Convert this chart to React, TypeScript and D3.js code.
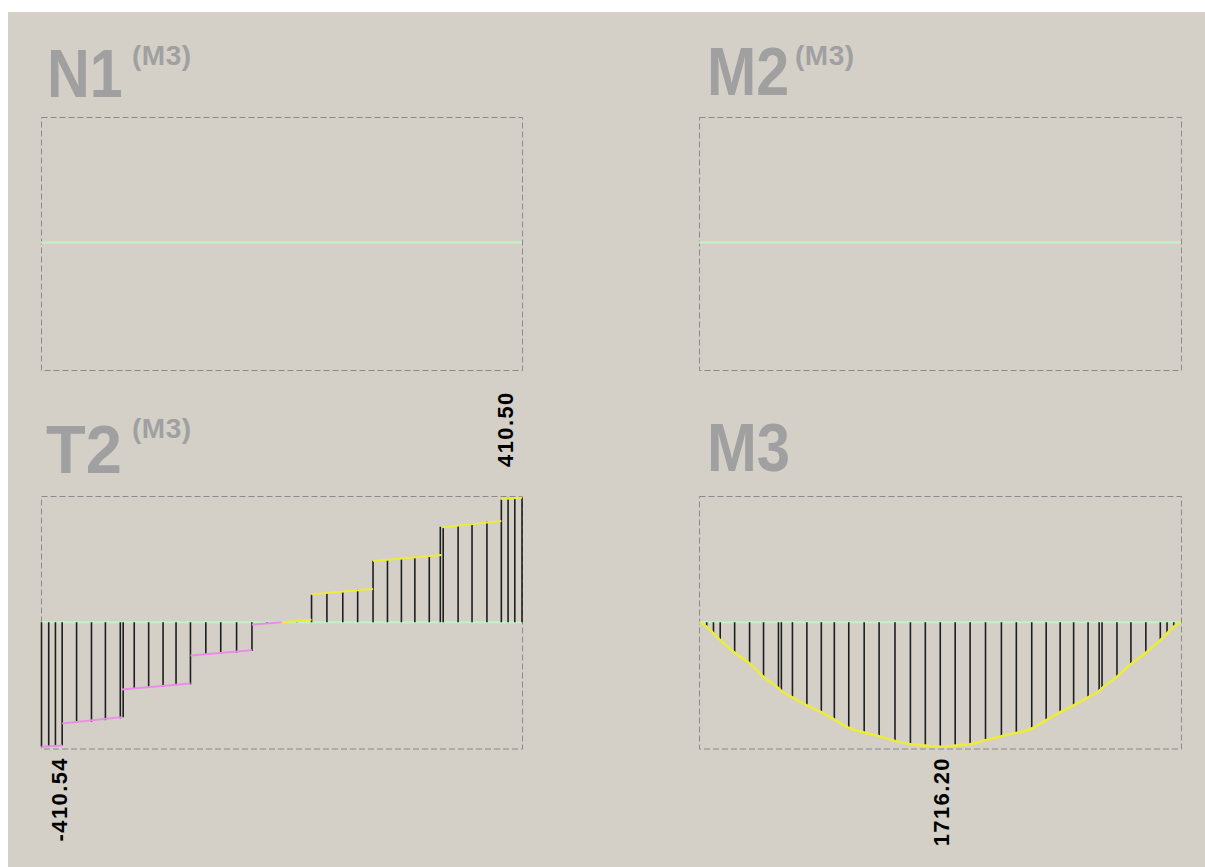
import React from 'react';
import * as d3 from 'd3';

const W = 1205;
const H = 867;

// Panel titles
const titles = ['N1', 'M2', 'T2', 'M3'];
const superscripts = ['(M3)', '(M3)', '(M3)', ''];

// Station positions along the member (% of span)
const stations = [
  0, 1.5, 2.9, 4.3, 7.3, 10.4, 13.3, 16.4, 17.0, 19.3, 22.3, 25.3, 28.0, 31.0, 34.2, 37.3, 40.6, 43.8, 46.9, 50.0,
  53.1, 56.2, 59.4, 62.7, 65.8, 69.0, 72.0, 74.9, 77.7, 80.7, 83.0, 83.6, 86.7, 89.6, 92.7, 95.7, 97.1, 98.5, 100,
];

// T2 shear values at stations
const t2Values = [
  -410.54, -410, -409, -407, -331, -328, -323, -317, -313, -219, -216, -213, -208, -205, -106, -104, -100, -95, -4, 0,
  4, 91, 97, 101, 108, 203, 208, 208, 212, 219, 315, 313, 318, 326, 332, 405, 410.5, 410.5, 410.5,
];

// T2 outline segments (start %, end %, start value, end value)
const t2SegStart = [0, 4.3, 16.7, 31.0, 43.8, 56.2, 69.0, 83.3, 95.7];
const t2SegEnd = [4.3, 16.7, 31.0, 43.8, 56.2, 69.0, 83.3, 95.7, 100];
const t2SegV0 = [-410.54, -334, -222, -110, -8, 92, 202, 313, 407];
const t2SegV1 = [-407, -313, -202, -92, 8, 110, 222, 334, 410.5];

// M3 moment values at stations
const m3Values = [
  0, 62, 153, 246, 421, 567, 752, 908, 946, 1037, 1147, 1240, 1341, 1457, 1520, 1571, 1636, 1682, 1700, 1716.2,
  1700, 1682, 1626, 1571, 1526, 1465, 1350, 1240, 1147, 1037, 946, 908, 752, 577, 421, 246, 153, 62, 0,
];

// Extreme value labels
const t2MinLabel = '-410.54';
const t2MaxLabel = '410.50';
const m3MaxLabel = '1716.20';

const BG = '#d4d0c8';
const TITLE = '#a0a0a0';
const BOX = '#8a8a8a';
const ZERO = '#c4f2c4';
const HATCH = '#1e1e1e';
const PINK = '#e98ee6';
const YELLOW = '#ecec3a';
const FONT = "'Liberation Sans', Arial, sans-serif";

type Box = { x0: number; x1: number; y0: number; y1: number };
const boxes: Box[] = [
  { x0: 41, x1: 522, y0: 117, y1: 370 },
  { x0: 699, x1: 1181, y0: 117, y1: 370 },
  { x0: 41, x1: 522, y0: 496, y1: 748.5 },
  { x0: 699, x1: 1181, y0: 496, y1: 748.5 },
];
const titlePos = [
  { x: 47, y: 97, k: 0.91, sx: 132, sy: 65 },
  { x: 707, y: 95, k: 0.91, sx: 795, sy: 65 },
  { x: 46, y: 473, k: 1.0, sx: 132, sy: 438 },
  { x: 707, y: 471, k: 0.92, sx: 0, sy: 0 },
];

function Title({ i }: { i: number }) {
  const p = titlePos[i];
  return (
    <g>
      <text
        transform={`translate(${p.x},${p.y}) scale(${p.k},1.04)`}
        fontFamily={FONT}
        fontWeight="bold"
        fill={TITLE}
        fontSize={65}
      >
        {titles[i]}
      </text>
      {superscripts[i] ? (
        <text x={p.sx} y={p.sy} fontFamily={FONT} fontWeight="bold" fill={TITLE} fontSize={28} letterSpacing={0.5}>
          {superscripts[i]}
        </text>
      ) : null}
    </g>
  );
}

function Frame({ b }: { b: Box }) {
  return (
    <rect
      x={b.x0 + 0.5}
      y={b.y0 + 0.5}
      width={b.x1 - b.x0}
      height={b.y1 - b.y0}
      fill="none"
      stroke={BOX}
      strokeWidth={1}
      strokeDasharray="6,3"
    />
  );
}

export default function App() {
  // empty panels
  const emptyPanels = [0, 1].map((i) => {
    const b = boxes[i];
    const x = d3.scaleLinear().domain([0, 100]).range([b.x0, b.x1]);
    const y = d3.scaleLinear().domain([-1, 1]).range([b.y1, b.y0]);
    return (
      <g key={i}>
        <Title i={i} />
        <Frame b={b} />
        <line x1={x(0)} x2={x(100)} y1={y(0) - 1} y2={y(0) - 1} stroke={ZERO} strokeWidth={2} />
      </g>
    );
  });

  // T2 panel
  const bT = boxes[2];
  const xT = d3.scaleLinear().domain([0, 100]).range([bT.x0 + 0.5, bT.x1]);
  const extT = 416.5;
  const yT = d3.scaleLinear().domain([-extT, extT]).range([bT.y1, bT.y0]);
  const t2Lines: React.ReactNode[] = [];
  t2SegStart.forEach((s, k) => {
    const e = t2SegEnd[k];
    const v0 = t2SegV0[k];
    const v1 = t2SegV1[k];
    if (v0 < 0 && v1 > 0) {
      const xc = s + ((0 - v0) / (v1 - v0)) * (e - s);
      t2Lines.push(<line key={`a${k}`} x1={xT(s)} x2={xT(xc)} y1={yT(v0)} y2={yT(0)} stroke={PINK} strokeWidth={2} />);
      t2Lines.push(<line key={`b${k}`} x1={xT(xc)} x2={xT(e)} y1={yT(0)} y2={yT(v1)} stroke={YELLOW} strokeWidth={2} />);
    } else {
      t2Lines.push(
        <line key={k} x1={xT(s)} x2={xT(e)} y1={yT(v0)} y2={yT(v1)} stroke={v0 < 0 ? PINK : YELLOW} strokeWidth={2} />
      );
    }
  });

  // M3 panel
  const bM = boxes[3];
  const xM = d3.scaleLinear().domain([0, 100]).range([bM.x0 + 0.5, bM.x1]);
  const extM = 1741;
  const yM = d3.scaleLinear().domain([-extM, extM]).range([bM.y0, bM.y1]);
  const m3Pts: [number, number][] = stations.map((s, i) => [s, m3Values[i]]);
  const m3Path = d3
    .line<[number, number]>()
    .x((d) => xM(d[0]))
    .y((d) => yM(d[1]))
    .curve(d3.curveMonotoneX)(m3Pts) as string;

  const labelStyle = { fontFamily: FONT, fontWeight: 'bold' as const, fontSize: 22, letterSpacing: 1.4 };

  return (
    <svg
      width={W}
      height={H}
      style={{ position: 'absolute', left: 0, top: 0, display: 'block' }}
      xmlns="http://www.w3.org/2000/svg"
    >
      <rect x={0} y={0} width={W} height={H} fill="#ffffff" />
      <rect x={8} y={12} width={W - 8} height={H - 12} fill={BG} />

      {emptyPanels}

      {/* T2 */}
      <g>
        <Title i={2} />
        <Frame b={bT} />
        <line x1={xT(0)} x2={xT(100)} y1={yT(0)} y2={yT(0)} stroke={ZERO} strokeWidth={2} />
        {stations.map((s, i) => (
          <line
            key={i}
            x1={xT(s)}
            x2={xT(s)}
            y1={yT(0)}
            y2={yT(t2Values[i])}
            stroke={HATCH}
            strokeWidth={1.6}
          />
        ))}
        {t2Lines}
        <text
          transform={`translate(${xT(0) + 25},757) rotate(-90)`}
          textAnchor="end"
          fill="#000"
          {...labelStyle}
        >
          {t2MinLabel}
        </text>
        <text
          transform={`translate(${xT(97.1) + 5},467) rotate(-90)`}
          textAnchor="start"
          fill="#000"
          {...labelStyle}
        >
          {t2MaxLabel}
        </text>
      </g>

      {/* M3 */}
      <g>
        <Title i={3} />
        <Frame b={bM} />
        <line x1={xM(0)} x2={xM(100)} y1={yM(0)} y2={yM(0)} stroke={ZERO} strokeWidth={2} />
        {stations.map((s, i) => (
          <line
            key={i}
            x1={xM(s)}
            x2={xM(s)}
            y1={yM(0)}
            y2={yM(m3Values[i])}
            stroke={HATCH}
            strokeWidth={1.6}
          />
        ))}
        <path d={m3Path} fill="none" stroke={YELLOW} strokeWidth={2.5} />
        <text
          transform={`translate(${xM(50) + 9},757) rotate(-90)`}
          textAnchor="end"
          fill="#000"
          {...labelStyle}
        >
          {m3MaxLabel}
        </text>
      </g>
    </svg>
  );
}
